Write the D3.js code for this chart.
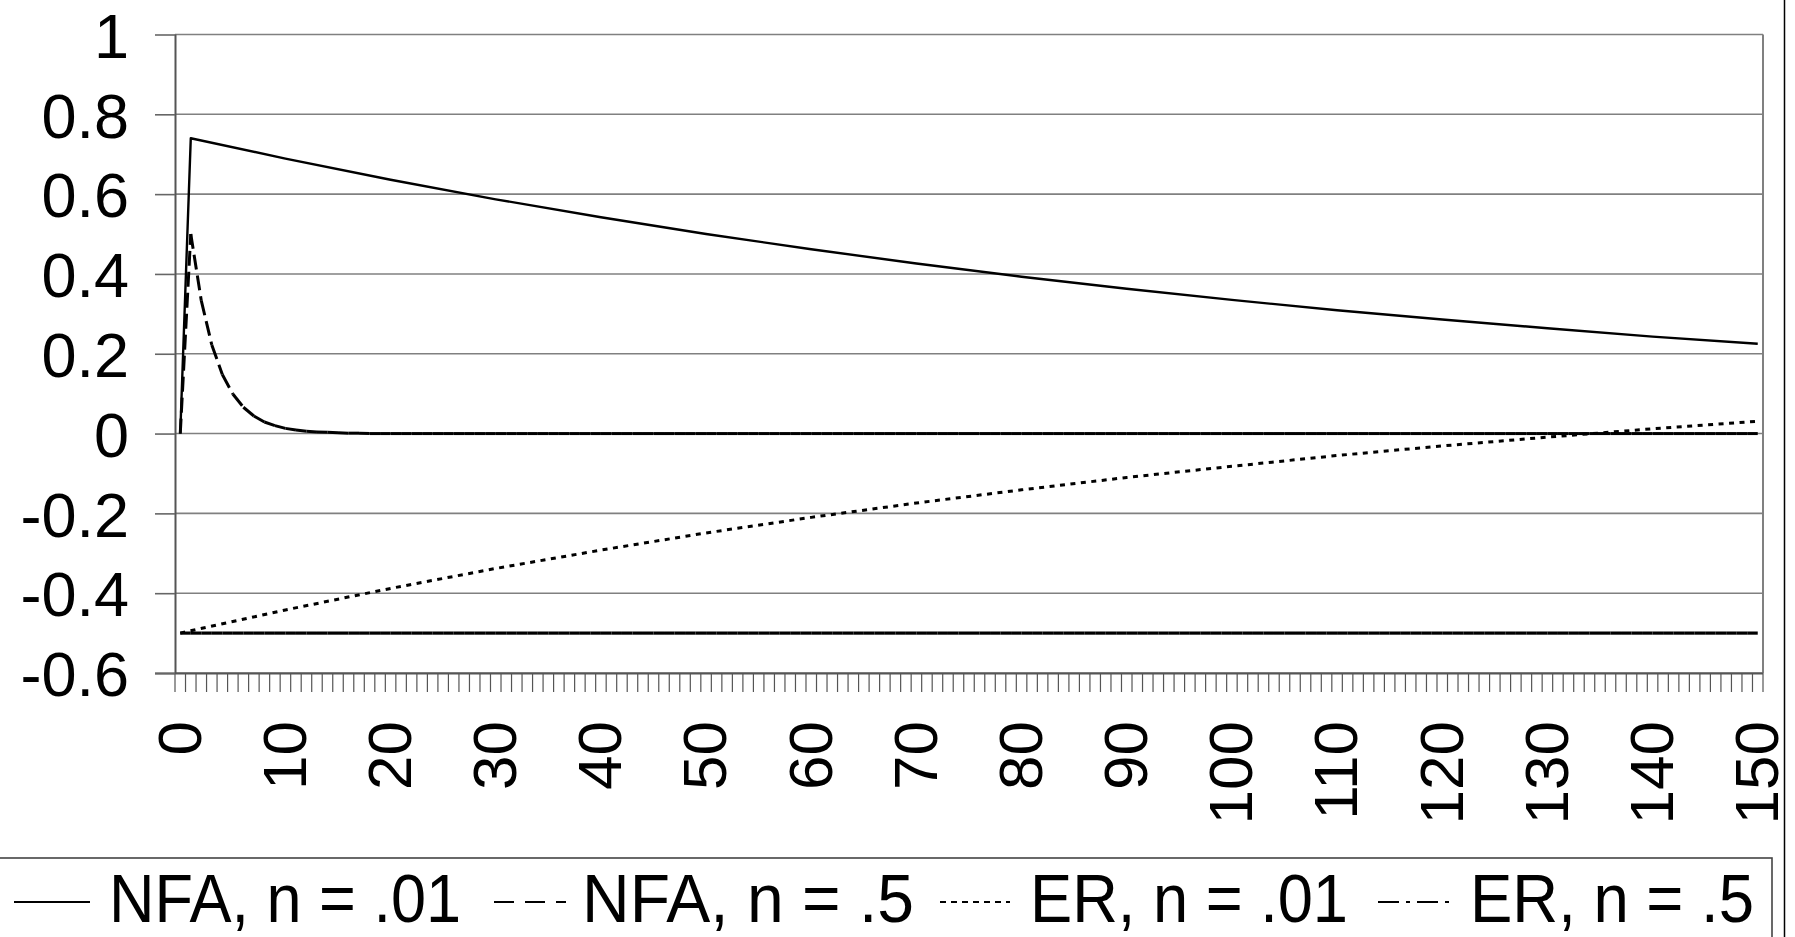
<!DOCTYPE html>
<html><head><meta charset="utf-8">
<script src="https://cdn.jsdelivr.net/npm/d3@7"></script>
<style>html,body{margin:0;padding:0;background:#fff;overflow:hidden}</style>
</head><body>
<svg id="chart" width="1795" height="937"></svg>
<script>
// ---------- data ----------
const categories = [0,1,2,3,4,5,6,7,8,9,10,11,12,13,14,15,16,17,18,19,20,21,22,23,24,25,26,27,28,29,30,31,32,33,34,35,36,37,38,39,40,41,42,43,44,45,46,47,48,49,50,51,52,53,54,55,56,57,58,59,60,61,62,63,64,65,66,67,68,69,70,71,72,73,74,75,76,77,78,79,80,81,82,83,84,85,86,87,88,89,90,91,92,93,94,95,96,97,98,99,100,101,102,103,104,105,106,107,108,109,110,111,112,113,114,115,116,117,118,119,120,121,122,123,124,125,126,127,128,129,130,131,132,133,134,135,136,137,138,139,140,141,142,143,144,145,146,147,148,149,150];
const xTickLabels = [0,10,20,30,40,50,60,70,80,90,100,110,120,130,140,150];
const yTickValues = [-0.6,-0.4,-0.2,0,0.2,0.4,0.6,0.8,1];

// NFA, n = .01 (read at these categories)
const nfa01Cats = [0,1,10,20,30,40,50,60,70,80,90,100,110,120,130,140,150];
const nfa01Vals = [0,0.74,0.689,0.636,0.587,0.542,0.5,0.462,0.426,0.393,0.363,0.335,0.309,0.286,0.264,0.243,0.225];

// NFA, n = .5 (every category)
const nfa5Vals = [0,0.5,0.333,0.222,0.148,0.099,0.066,0.044,0.029,0.02,0.013,0.009,0.006,0.004,0.003,0.002,0.001,0.001,0,0,
0,0,0,0,0,0,0,0,0,0,0,0,0,0,0,0,0,0,0,0,0,0,0,0,0,0,0,0,0,0,
0,0,0,0,0,0,0,0,0,0,0,0,0,0,0,0,0,0,0,0,0,0,0,0,0,0,0,0,0,0,
0,0,0,0,0,0,0,0,0,0,0,0,0,0,0,0,0,0,0,0,0,0,0,0,0,0,0,0,0,0,
0,0,0,0,0,0,0,0,0,0,0,0,0,0,0,0,0,0,0,0,0,0,0,0,0,0,0,0,0,0,
0,0,0,0,0,0,0,0,0,0,0];

// ER, n = .01 (read at these categories)
const er01Cats = [0,10,20,30,40,50,60,70,80,90,100,110,120,130,140,150];
const er01Vals = [-0.5,-0.442,-0.388,-0.338,-0.292,-0.249,-0.21,-0.174,-0.141,-0.11,-0.082,-0.055,-0.031,-0.009,0.012,0.031];

// ER, n = .5 (every category)
const er5Vals = [-0.5,-0.5,-0.5,-0.5,-0.5,-0.5,-0.5,-0.5,-0.5,-0.5,-0.5,-0.5,-0.5,-0.5,-0.5,-0.5,-0.5,-0.5,-0.5,-0.5,
-0.5,-0.5,-0.5,-0.5,-0.5,-0.5,-0.5,-0.5,-0.5,-0.5,-0.5,-0.5,-0.5,-0.5,-0.5,-0.5,-0.5,-0.5,-0.5,-0.5,
-0.5,-0.5,-0.5,-0.5,-0.5,-0.5,-0.5,-0.5,-0.5,-0.5,-0.5,-0.5,-0.5,-0.5,-0.5,-0.5,-0.5,-0.5,-0.5,-0.5,
-0.5,-0.5,-0.5,-0.5,-0.5,-0.5,-0.5,-0.5,-0.5,-0.5,-0.5,-0.5,-0.5,-0.5,-0.5,-0.5,-0.5,-0.5,-0.5,-0.5,
-0.5,-0.5,-0.5,-0.5,-0.5,-0.5,-0.5,-0.5,-0.5,-0.5,-0.5,-0.5,-0.5,-0.5,-0.5,-0.5,-0.5,-0.5,-0.5,-0.5,
-0.5,-0.5,-0.5,-0.5,-0.5,-0.5,-0.5,-0.5,-0.5,-0.5,-0.5,-0.5,-0.5,-0.5,-0.5,-0.5,-0.5,-0.5,-0.5,-0.5,
-0.5,-0.5,-0.5,-0.5,-0.5,-0.5,-0.5,-0.5,-0.5,-0.5,-0.5,-0.5,-0.5,-0.5,-0.5,-0.5,-0.5,-0.5,-0.5,-0.5,
-0.5,-0.5,-0.5,-0.5,-0.5,-0.5,-0.5,-0.5,-0.5,-0.5,-0.5];

const seriesNames = ["NFA, n = .01","NFA, n = .5","ER, n = .01","ER, n = .5"];

// ---------- layout ----------
const FONT = "'Liberation Sans', Arial, Helvetica, sans-serif";
const plot = {left:175, right:1763, top:34.5, bottom:673};
const svg = d3.select("#chart");

const x = d3.scaleBand().domain(categories).range([plot.left, plot.right]).padding(0);
const y = d3.scaleLinear().domain([-0.6, 1]).range([plot.bottom, plot.top]);
const cx = c => x(c) + x.bandwidth()/2;

// gridlines
svg.append("g").selectAll("line").data(yTickValues).join("line")
  .attr("x1", plot.left).attr("x2", plot.right)
  .attr("y1", d => y(d)).attr("y2", d => y(d))
  .attr("stroke", "#808080").attr("stroke-width", 1.6);

// plot area right border
svg.append("line").attr("x1", plot.right).attr("x2", plot.right)
  .attr("y1", plot.top).attr("y2", plot.bottom)
  .attr("stroke", "#808080").attr("stroke-width", 2);

// x axis category boundary ticks
const boundaries = categories.map(c => x(c)).concat([plot.right]);
svg.append("g").selectAll("line").data(boundaries).join("line")
  .attr("x1", d => d).attr("x2", d => d)
  .attr("y1", plot.bottom).attr("y2", plot.bottom + 19)
  .attr("stroke", "#555").attr("stroke-width", 1.2);

// x axis labels via d3 axis
const xAxis = d3.axisBottom(x).tickValues(xTickLabels).tickSize(0).tickFormat(d => String(d));
const gx = svg.append("g").attr("transform", `translate(0,${plot.bottom})`).call(xAxis);
gx.select(".domain").attr("stroke", "#555").attr("stroke-width", 2).attr("d", `M${plot.left-20},0.5H${plot.right}`);
gx.selectAll("text")
  .attr("font-family", FONT).attr("font-size", 62).attr("fill", "#000")
  .attr("x", 0).attr("y", 0).attr("dy", "0.36em")
  .attr("text-anchor", "end")
  .attr("transform", "translate(-2,48) rotate(-90)");

// y axis
const yAxis = d3.axisLeft(y).tickValues(yTickValues).tickSize(20).tickPadding(26)
  .tickFormat(d => d === 0 ? "0" : String(+d.toFixed(1)));
const gy = svg.append("g").attr("transform", `translate(${plot.left},0)`).call(yAxis);
gy.select(".domain").attr("stroke", "#555").attr("stroke-width", 2)
  .attr("d", `M0.5,${plot.top}V${plot.bottom}`);
gy.selectAll(".tick line").attr("stroke", "#666").attr("stroke-width", 1.6);
gy.selectAll("text").attr("font-family", FONT).attr("font-size", 63).attr("fill", "#000").attr("dy", "0.36em");

// ---------- series ----------
const line = d3.line().x(d => cx(d[0])).y(d => y(d[1]));
const seriesData = [
  {pts: nfa01Cats.map((c,i) => [c, nfa01Vals[i]]), dash: null, w: 2.4, perSeg: false},
  {pts: nfa5Vals.map((v,i) => [categories[i], v]), dash: "15,6", w: 3, perSeg: true},
  {pts: er01Cats.map((c,i) => [c, er01Vals[i]]), dash: "5,5.5", w: 3, perSeg: false},
  {pts: er5Vals.map((v,i) => [categories[i], v]), dash: "14,4,3,4", w: 3.2, perSeg: true}
];
const gs = svg.append("g");
seriesData.forEach(s => {
  if (s.perSeg) {
    const segs = d3.pairs(s.pts);
    gs.append("g").selectAll("path").data(segs).join("path")
      .attr("d", d => line(d)).attr("fill", "none").attr("stroke", "#000")
      .attr("stroke-width", s.w).attr("stroke-dasharray", s.dash);
  } else {
    gs.append("path").attr("d", line(s.pts)).attr("fill", "none").attr("stroke", "#000")
      .attr("stroke-width", s.w).attr("stroke-dasharray", s.dash)
      .attr("stroke-linejoin", "round");
  }
});

// ---------- outer chart border & legend ----------
svg.append("line").attr("x1", 1784.5).attr("x2", 1784.5).attr("y1", 0).attr("y2", 937)
  .attr("stroke", "#000").attr("stroke-width", 1.5);

svg.append("rect").attr("x", -5).attr("y", 858).attr("width", 1777).attr("height", 120)
  .attr("fill", "none").attr("stroke", "#444").attr("stroke-width", 1.6);

const legendSymX = [[14, 90], [494, 566], [940, 1010], [1378, 1455]];
const legendTextX = [109, 582, 1030, 1470];
const legendTextW = [352, 332, 318, 284];
const legendDash = [null, "20,11", "6,5", "21,7,4,7"];
const lg = svg.append("g");
seriesNames.forEach((name, i) => {
  lg.append("line").attr("x1", legendSymX[i][0]).attr("x2", legendSymX[i][1])
    .attr("y1", 902).attr("y2", 902).attr("stroke", "#000").attr("stroke-width", 2)
    .attr("stroke-dasharray", legendDash[i]);
  lg.append("text").attr("x", legendTextX[i]).attr("y", 922)
    .attr("font-family", FONT).attr("font-size", 68).attr("fill", "#000")
    .attr("textLength", legendTextW[i]).attr("lengthAdjust", "spacingAndGlyphs")
    .text(name);
});
</script>
</body></html>
